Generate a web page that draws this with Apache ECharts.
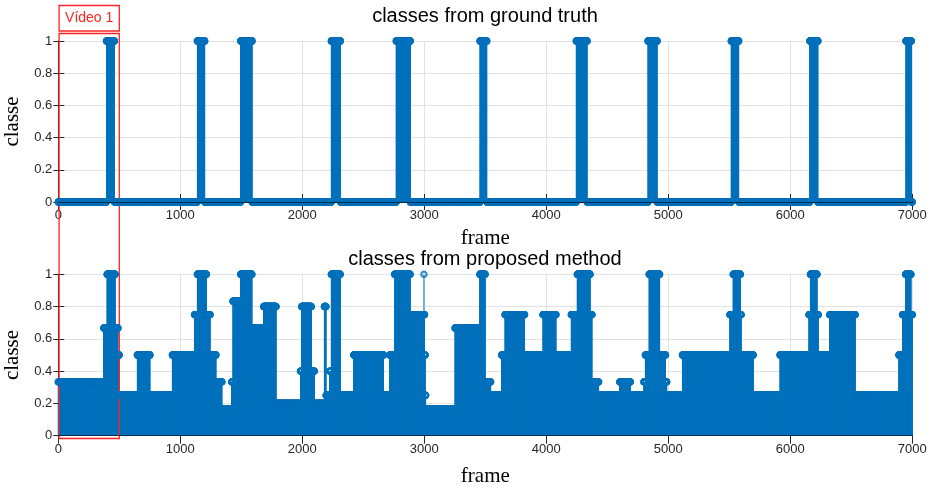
<!DOCTYPE html>
<html>
<head>
<meta charset="utf-8">
<script src="https://cdn.jsdelivr.net/npm/echarts@6/dist/echarts.min.js"></script>
<style>
  html, body { margin: 0; padding: 0; background: #ffffff; }
  #chart { width: 933px; height: 489px; }
</style>
</head>
<body>
<div id="chart"></div>
<script>
// ---- data -------------------------------------------------------------
const frameCount = 7000;

// Ground truth: runs of frames labelled as class 1 (all other frames are 0)
const truthRunStart = [395, 1140, 1495, 2238, 2770, 3457, 4246, 4834, 5516, 6160, 6948];
const truthRunEnd   = [460, 1200, 1588, 2312, 2885, 3512, 4334, 4908, 5577, 6226, 6992];

// Proposed method: each run starts at the given frame and keeps its class value
const predRunStart = [
  0, 372, 400, 467, 490, 500, 648, 752, 935, 1117,
  1140, 1215, 1245, 1293, 1342, 1421, 1432, 1495, 1588, 1683,
  1786, 1985, 1995, 2075, 2100, 2181, 2195, 2225, 2232, 2238,
  2312, 2422, 2667, 2717, 2757, 2885, 2997, 2998, 3003, 3008,
  3012, 3252, 3455, 3500, 3545, 3634, 3662, 3823, 3973, 4080,
  4205, 4254, 4360, 4375, 4430, 4602, 4690, 4800, 4812, 4843,
  4930, 4978, 4988, 5116, 5505, 5532, 5592, 5598, 5697, 5916,
  6153, 6165, 6220, 6230, 6323, 6533, 6890, 6920, 6945, 6990
];
const predRunValue = [
  0.333, 0.667, 1, 0.667, 0.5, 0.25, 0.5, 0.25, 0.5, 0.75,
  1, 0.75, 0.5, 0.333, 0.167, 0.333, 0.833, 1, 0.667, 0.8,
  0.2, 0.4, 0.8, 0.4, 0.2, 0.8, 0.25, 0.4, 0.25, 1,
  0.25, 0.5, 0.25, 0.5, 1, 0.75, 1, 0.75, 0.5, 0.25,
  0.167, 0.667, 1, 0.333, 0.25, 0.5, 0.75, 0.5, 0.75, 0.5,
  0.75, 1, 0.75, 0.333, 0.25, 0.333, 0.25, 0.333, 0.5, 1,
  0.5, 0.333, 0.25, 0.5, 0.75, 1, 0.75, 0.5, 0.25, 0.5,
  0.75, 1, 0.75, 0.5, 0.75, 0.25, 0.5, 0.75, 1, 0.75
];

// Axis ticks
const frameTicks = [0, 1000, 2000, 3000, 4000, 5000, 6000, 7000];
const classTicks = [0, 0.2, 0.4, 0.6, 0.8, 1];

// Frames framed by the "Vídeo 1" annotation
const videoRange = [0, 500];

// ---- per-frame series -------------------------------------------------
function truthSeries() {
  const out = [];
  for (let f = 0; f <= frameCount; f++) {
    let v = 0;
    for (let i = 0; i < truthRunStart.length; i++) {
      if (f >= truthRunStart[i] && f <= truthRunEnd[i]) { v = 1; break; }
    }
    out.push([f, v]);
  }
  return out;
}
function predSeries() {
  const out = [];
  let k = 0;
  for (let f = 0; f <= frameCount; f++) {
    while (k + 1 < predRunStart.length && predRunStart[k + 1] <= f) k++;
    out.push([f, predRunValue[k]]);
  }
  return out;
}
const truthData = truthSeries();
const predData = predSeries();

// ---- styling ----------------------------------------------------------
const BLUE = '#0072BD';
const AXIS = '#262626';
const GRIDLINE = '#e2e2e2';
const SANS = '"Liberation Sans", Arial, Helvetica, sans-serif';
const SERIF = '"Liberation Serif", "Times New Roman", serif';

const grids = [
  { left: 58.3, right: 20.7, top: 41, height: 161, outerBoundsMode: 'none', containLabel: false },
  { left: 58.3, right: 20.7, top: 274.3, height: 161.4, outerBoundsMode: 'none', containLabel: false }
];

function xAxesFor(g, gap) {
  const base = { gridIndex: g, type: 'value', min: frameTicks[0], max: frameTicks[frameTicks.length - 1],
                 interval: frameTicks[1] - frameTicks[0] };
  return [
    Object.assign({}, base, {
      position: 'bottom',
      axisLine: { show: false },
      axisTick: { show: true, inside: true, length: 8, lineStyle: { color: AXIS, width: 1 } },
      axisLabel: { color: AXIS, fontSize: 13, fontFamily: SANS, margin: 7,
                   formatter: (v) => String(v) },
      splitLine: { show: true, lineStyle: { color: GRIDLINE, width: 1 } },
      name: 'frame', nameLocation: 'middle', nameGap: gap,
      nameTextStyle: { fontFamily: SERIF, fontSize: 21, color: '#000' }
    }),
    Object.assign({}, base, {
      position: 'top',
      axisLine: { show: true, lineStyle: { color: AXIS, width: 1 } },
      axisTick: { show: true, inside: true, length: 8, lineStyle: { color: AXIS, width: 1 } },
      axisLabel: { show: false },
      splitLine: { show: false }
    }),
    Object.assign({}, base, {
      position: 'bottom', z: 5,
      axisLine: { show: true, lineStyle: { color: '#0d2238', width: 1.2, opacity: 0.85 } },
      axisTick: { show: false }, axisLabel: { show: false }, splitLine: { show: false }
    })
  ];
}
function yAxesFor(g) {
  const base = { gridIndex: g, type: 'value', min: classTicks[0], max: classTicks[classTicks.length - 1],
                 interval: classTicks[1] - classTicks[0] };
  return [
    Object.assign({}, base, {
      position: 'left',
      axisLine: { show: true, lineStyle: { color: AXIS, width: 1 } },
      axisTick: { show: true, inside: true, length: 6, lineStyle: { color: AXIS, width: 1 } },
      axisLabel: { color: AXIS, fontSize: 13, fontFamily: SANS, margin: 6 },
      splitLine: { show: true, lineStyle: { color: GRIDLINE, width: 1 } },
      name: 'classe', nameLocation: 'middle', nameGap: 24,
      nameTextStyle: { fontFamily: SERIF, fontSize: 21, color: '#000' }
    }),
    Object.assign({}, base, {
      position: 'right',
      axisLine: { show: true, lineStyle: { color: AXIS, width: 1 } },
      axisTick: { show: true, inside: true, length: 5, lineStyle: { color: AXIS, width: 1 } },
      axisLabel: { show: false },
      splitLine: { show: false }
    })
  ];
}

// A stem plot: a vertical line from 0 to the value at every frame, plus a ring marker
function stemSeries(data, xi, yi) {
  return [
    {
      type: 'custom', xAxisIndex: xi, yAxisIndex: yi, data: data,
      silent: true, animation: false, progressive: 0, z: 2,
      renderItem: function (params, api) {
        const x = api.value(0), v = api.value(1);
        const p0 = api.coord([x, 0]);
        const p1 = api.coord([x, v]);
        return {
          type: 'line',
          shape: { x1: p0[0], y1: p0[1], x2: p1[0], y2: p1[1] },
          style: { stroke: BLUE, lineWidth: 1, fill: null }
        };
      }
    },
    {
      type: 'scatter', xAxisIndex: xi, yAxisIndex: yi, data: data,
      symbol: 'circle', symbolSize: 5.4, silent: true, animation: false,
      progressive: 0, clip: false,
      itemStyle: { color: 'none', borderColor: BLUE, borderWidth: 2.1 },
      z: 3
    }
  ];
}

const chart = echarts.init(document.getElementById('chart'), null, { renderer: 'canvas' });
chart.setOption({
  animation: false,
  backgroundColor: '#ffffff',
  title: [
    { text: 'classes from ground truth', left: 485, top: 6, textAlign: 'center', padding: 0,
      textStyle: { fontFamily: SANS, fontSize: 20, fontWeight: 'normal', color: '#000' } },
    { text: 'classes from proposed method', left: 485, top: 249, textAlign: 'center', padding: 0,
      textStyle: { fontFamily: SANS, fontSize: 20, fontWeight: 'normal', color: '#000' } }
  ],
  grid: grids,
  xAxis: xAxesFor(0, 26).concat(xAxesFor(1, 30)),
  yAxis: yAxesFor(0).concat(yAxesFor(1)),
  series: stemSeries(truthData, 0, 0).concat(stemSeries(predData, 3, 2))
});

// "Vídeo 1" annotation spanning both panels
const vx0 = chart.convertToPixel({ xAxisIndex: 0 }, videoRange[0]) + 0.8;
const vx1 = chart.convertToPixel({ xAxisIndex: 0 }, videoRange[1]);
const RED = '#ff2323';
chart.setOption({
  graphic: [
    { type: 'rect', z: 100, silent: true,
      shape: { x: vx0, y: 33.5, width: vx1 - vx0, height: 405 },
      style: { fill: 'none', stroke: RED, lineWidth: 1.3 } },
    { type: 'rect', z: 100, silent: true,
      shape: { x: vx0, y: 5.5, width: vx1 - vx0, height: 25.5 },
      style: { fill: '#ffffff', stroke: RED, lineWidth: 1.3 } },
    { type: 'text', z: 101, silent: true,
      x: (vx0 + vx1) / 2, y: 18.5,
      style: { text: 'Vídeo 1', fill: RED, font: '14px ' + SANS, align: 'center', verticalAlign: 'middle' } }
  ]
});
</script>
</body>
</html>
